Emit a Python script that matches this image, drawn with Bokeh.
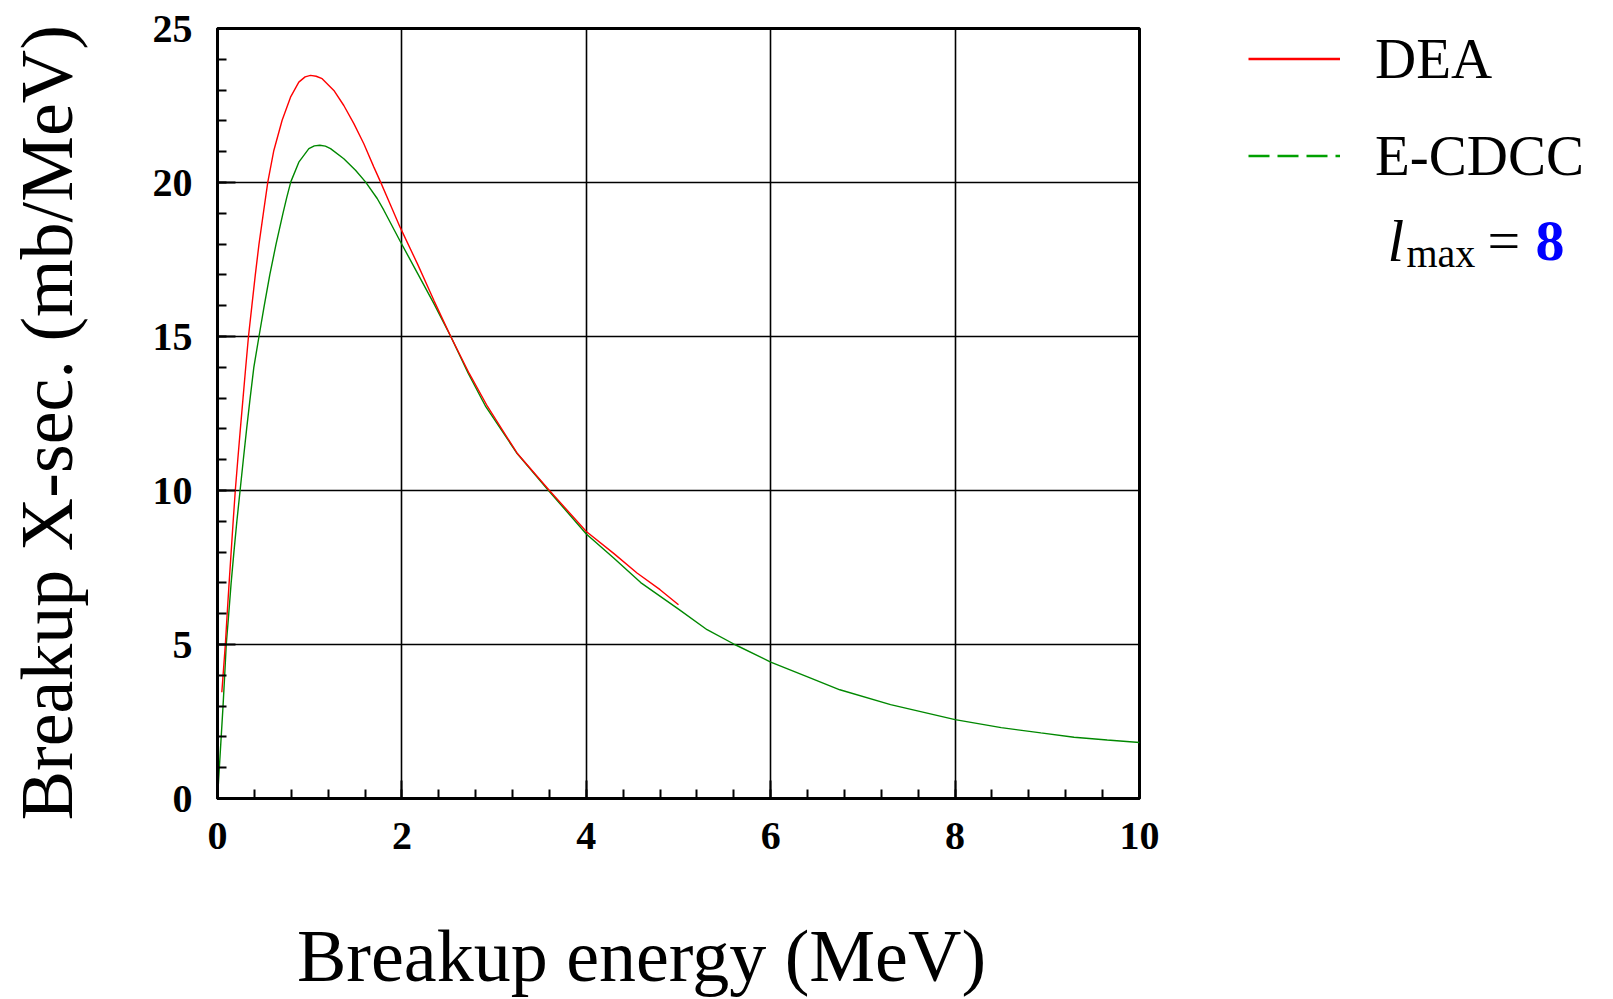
from bokeh.plotting import figure
from bokeh.models import Range1d, Label, Legend, LegendItem, FixedTicker
from bokeh.layouts import row
from bokeh.embed import file_html
from bokeh.resources import INLINE

# ---------------- data ----------------
dea_x = [0.047, 0.085, 0.105, 0.126, 0.148, 0.17, 0.193, 0.22, 0.248, 0.277, 0.306,
         0.336, 0.373, 0.41, 0.45, 0.502, 0.546, 0.611, 0.701, 0.792, 0.882, 0.95, 1.009,
         1.07, 1.135, 1.262, 1.37, 1.479, 1.587, 1.696, 1.768, 1.894, 1.98, 2.17, 2.35,
         2.53, 2.73, 2.93, 3.25, 3.6, 4.0, 4.3, 4.55, 4.8, 5.0]
dea_y = [3.45, 5.0, 6.0, 7.0, 8.0, 9.0, 10.0, 11.0, 12.0, 13.0, 14.0,
         15.0, 16.0, 17.0, 18.0, 19.1, 20.02, 21.04, 22.02, 22.77, 23.26, 23.43, 23.48,
         23.45, 23.37, 22.99, 22.5, 21.91, 21.26, 20.5, 20.02, 19.15, 18.55, 17.35, 16.15,
         15.0, 13.8, 12.72, 11.21, 10.0, 8.67, 7.95, 7.32, 6.78, 6.29]

cdcc_x = [0.0, 0.02, 0.04, 0.06, 0.078, 0.095, 0.122, 0.148, 0.178, 0.21, 0.245, 0.28,
          0.316, 0.354, 0.394, 0.45, 0.507, 0.567, 0.635, 0.71, 0.75, 0.795, 0.882, 0.991,
          1.05, 1.11, 1.17, 1.226, 1.37, 1.497, 1.605, 1.732, 1.804, 1.98, 2.17, 2.35,
          2.53, 2.72, 2.91, 3.25, 3.59, 4.0, 4.3, 4.59, 5.0, 5.31, 5.61, 6.0, 6.4, 6.75,
          7.3, 8.0, 8.5, 8.93, 9.29, 9.65, 10.0]
cdcc_y = [0.0, 1.0, 2.0, 3.0, 4.0, 5.0, 6.0, 7.0, 8.0, 9.0, 10.0, 11.0,
          12.0, 13.0, 14.0, 15.0, 16.0, 17.0, 18.0, 19.0, 19.5, 20.02, 20.66, 21.1,
          21.19, 21.21, 21.18, 21.1, 20.77, 20.4, 20.02, 19.48, 19.1, 18.1, 17.05, 16.05,
          15.0, 13.8, 12.72, 11.2, 10.0, 8.59, 7.8, 7.01, 6.15, 5.48, 5.0, 4.43, 3.95, 3.53,
          3.05, 2.56, 2.3, 2.13, 1.99, 1.9, 1.82]

x_ticks = [0, 2, 4, 6, 8, 10]
y_ticks = [0, 5, 10, 15, 20, 25]
series_names = ["DEA", "E-CDCC"]
x_title = "Breakup energy (MeV)"
y_title = "Breakup X-sec. (mb/MeV)"

# ---------------- layout (pixels) ----------------
W, H = 1613, 999
L, R, T, B = 217, 1139, 28, 799          # plot frame on the page
MAIN_RB = 30
MAIN_W = R + MAIN_RB                      # main figure width
RIGHT_X = MAIN_W                          # left edge of the right strip
RIGHT_W = W - RIGHT_X
NBSP = "\u00a0"
CANVAS_DY = -20                           # measured offset of canvas-unit labels in the strip

SERIF = "Liberation Serif"

# ---------------- main plot ----------------
p = figure(width=MAIN_W, height=H, x_range=Range1d(0, 10), y_range=Range1d(0, 25),
           output_backend="svg", toolbar_location=None,
           min_border_left=L, min_border_right=MAIN_RB,
           min_border_top=T, min_border_bottom=H - B)
p.background_fill_color = "white"
p.border_fill_color = "white"
p.outline_line_color = "black"
p.outline_line_width = 3

for ax, ticks in ((p.xaxis, x_ticks), (p.yaxis, y_ticks)):
    step = ticks[1] - ticks[0]
    ax.ticker = FixedTicker(ticks=ticks,
                            minor_ticks=[i * step / 5 for i in range(5 * (len(ticks) - 1) + 1)])
    ax.axis_line_color = "black"
    ax.axis_line_width = 3
    ax.major_tick_in = 18
    ax.major_tick_out = 0
    ax.major_tick_line_width = 2
    ax.minor_tick_in = 9
    ax.minor_tick_out = 0
    ax.minor_tick_line_width = 2
    ax.major_label_text_font = SERIF
    ax.major_label_text_font_style = "bold"
    ax.major_label_text_font_size = "40px"
    ax.major_label_text_color = "black"
    ax.axis_label_text_font = SERIF
    ax.axis_label_text_font_style = "normal"
    ax.axis_label_text_font_size = "74px"
    ax.axis_label_text_color = "black"

p.xaxis.major_label_standoff = 24
p.yaxis.major_label_standoff = 25
# trailing no-break spaces shift the centred titles to where the reference has them
p.xaxis.axis_label = x_title + NBSP * 4
p.yaxis.axis_label = y_title + NBSP
p.xaxis.axis_label_standoff = 63
p.yaxis.axis_label_standoff = 62

p.grid.grid_line_color = "black"
p.grid.grid_line_width = 1.6
p.xgrid.ticker = FixedTicker(ticks=x_ticks)
p.ygrid.ticker = FixedTicker(ticks=y_ticks)

p.line(cdcc_x, cdcc_y, line_color="#008800", line_width=1.4)
p.line(dea_x, dea_y, line_color="#ff0000", line_width=1.4)

# ---------------- right strip: legend + l_max ----------------
rs = figure(width=RIGHT_W, height=H, x_range=Range1d(0, 1), y_range=Range1d(0, 1),
            output_backend="svg", toolbar_location=None, title_location=None,
            x_axis_location=None, y_axis_location=None,
            min_border_left=0, min_border_right=0, min_border_top=T, min_border_bottom=H - B)
rs.grid.visible = False
rs.outline_line_color = None
rs.background_fill_color = "white"
rs.border_fill_color = "white"

# legend sample renderers (kept outside the visible range)
r_dea = rs.line(x=[-3, -2], y=[-3, -3], line_color="#ff0000", line_width=2.6)
r_cdcc = rs.line(x=[-3, -2], y=[-3, -3], line_color="#00a000", line_width=2.6,
                 line_dash="21 8")
ROW_H, GLYPH_H, GAP = 64, 53, 32
leg_top = 29
leg_h = 2 * ROW_H + GAP
legend = Legend(items=[LegendItem(label=series_names[0], renderers=[r_dea]),
                       LegendItem(label=series_names[1], renderers=[r_cdcc])],
                location=(1248 - RIGHT_X, B - leg_top - leg_h),
                border_line_color=None, background_fill_alpha=0,
                padding=0, margin=0, spacing=GAP,
                glyph_width=92, glyph_height=GLYPH_H, label_height=ROW_H,
                label_standoff=35,
                label_text_font=SERIF, label_text_font_size="57px", label_text_color="black")
rs.add_layout(legend, "center")


def canvas_label(px, py, text, size, style="normal", color="black"):
    rs.add_layout(Label(x=px - RIGHT_X, y=py + CANVAS_DY, x_units="canvas", y_units="canvas",
                        text=text, text_font=SERIF, text_font_style=style, text_font_size=size,
                        text_color=color, text_baseline="alphabetic", text_align="left"))


canvas_label(1387, 260, "l", "60px", "italic")
canvas_label(1406, 273, "max", "40px")
canvas_label(1487, 260, "=", "58px")
canvas_label(1535, 260, "8", "58px", "bold", "#0000ff")

layout = row(p, rs)
open("out.html", "w").write(file_html(layout, INLINE))
